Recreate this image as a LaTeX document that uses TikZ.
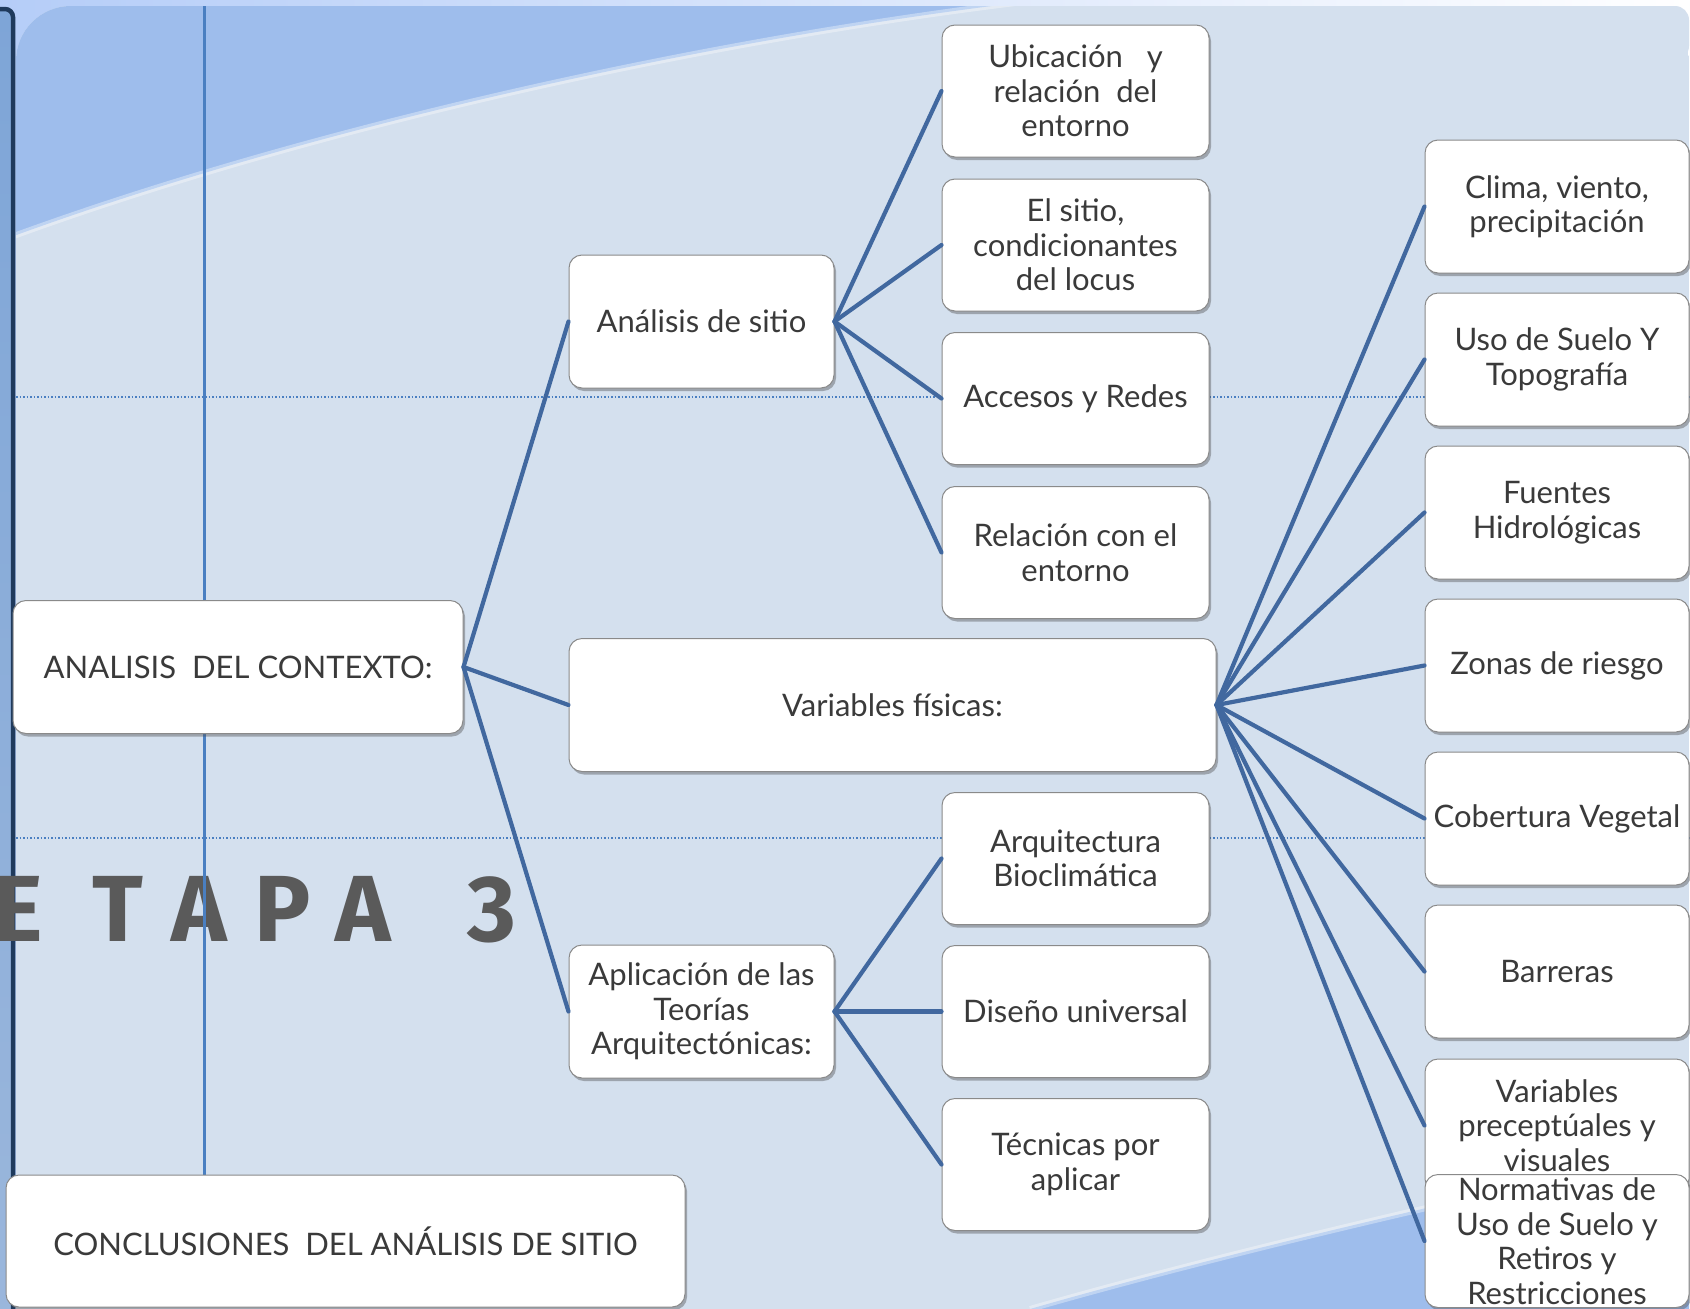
\documentclass[tikz,border=0pt]{standalone}
\usepackage{fontspec}
\setmainfont{Lato}
\newfontfamily\etapafont{Fira Sans}
\usetikzlibrary{shadows}
\definecolor{panelc}{HTML}{D4E0EE}
\definecolor{bandc}{HTML}{9EBDEC}
\definecolor{topc}{HTML}{B5CDF8}
\definecolor{stripc}{HTML}{9BB7DC}
\definecolor{stript}{HTML}{7EA5D7}
\definecolor{navyc}{HTML}{1F3A5C}
\definecolor{vlinec}{HTML}{4A7FC1}
\definecolor{connc}{HTML}{41689F}
\definecolor{txtc}{HTML}{3A3A3A}
\definecolor{borderc}{HTML}{8A8A8A}
\definecolor{etapac}{HTML}{5A5A5A}
\tikzset{
  box/.style={draw=borderc, line width=1pt, fill=white, rounded corners=13pt,
    align=center, text=txtc, font=\fontsize{31}{34.5}\selectfont, inner sep=1pt,
    drop shadow={shadow xshift=2pt, shadow yshift=-3pt, opacity=0.4, fill=black!70}},
  midbox/.style={box, minimum width=267pt, minimum height=132pt},
  rightbox/.style={box, minimum width=264pt, minimum height=133pt},
  conn/.style={draw=connc, line width=4.2pt, line cap=round},
  guide/.style={draw=vlinec, line width=1.5pt, dotted},
}
\begin{document}
\begin{tikzpicture}[x=1pt,y=-1pt]
\useasboundingbox (0,0) rectangle (1690,1309);
% page background
\shade[left color=topc, right color=white] (0,0) rectangle (1690,1309);
% left strip
\shade[top color=stript, bottom color=stripc, rounded corners=8pt] (-20,9) rectangle (13,1340);
\draw[navyc, line width=4.5pt, rounded corners=8pt] (-20,9) -- (13,9) -- (13,1340);
% panel
\begin{scope}
  \clip[rounded corners=55pt] (16,6) rectangle (1689,1400);
  \fill[panelc] (16,6) rectangle (1689,1400);
  \fill[bandc] (0,0) -- (0,241) .. controls (300,130) and (700,40) .. (1040,0) -- cycle;
  \draw[white, opacity=0.35, line width=6pt] (0,241) .. controls (300,130) and (700,40) .. (1040,0);
  \fill[bandc] (1030,1309) .. controls (1200,1260) and (1450,1200) .. (1690,1150) -- (1690,1320) -- (1030,1320) -- cycle;
  \draw[white, opacity=0.35, line width=6pt] (1030,1309) .. controls (1200,1260) and (1450,1200) .. (1690,1150);
\end{scope}
\fill[panelc, rounded corners=14pt] (1200,6) -- (1689,6) -- (1689,60) -- (1200,60) -- cycle;
\fill[panelc] (1200,6) rectangle (1600,60);
% guides
\draw[guide] (16,397) -- (1690,397);
\draw[guide] (16,838) -- (1690,838);
% ETAPA 3
\node[anchor=base west, inner sep=0pt, text=etapac, font=\etapafont\bfseries\fontsize{94}{100}\selectfont] (etapa) at (18,941)
  {\makebox[0pt]{E}\hspace{100pt}\makebox[0pt]{T}\hspace{81pt}\makebox[0pt]{A}\hspace{84pt}\makebox[0pt]{P}\hspace{80pt}\makebox[0pt]{A}\hspace{129pt}\makebox[0pt]{3}};
% vertical line
\draw[vlinec, line width=3pt] (204,6) -- (204,1176);

% nodes
\node[box, minimum width=450pt, minimum height=133pt] (root) at (238,667) {ANALISIS\ \ DEL CONTEXTO:};
\node[box, minimum width=265pt, minimum height=133pt] (sitio) at (701.5,321.5) {Análisis de sitio};
\node[box, minimum width=647pt, minimum height=133pt] (vf) at (892.5,705) {Variables físicas:};
\node[box, minimum width=265pt, minimum height=133pt] (apl) at (701.5,1011.5) {Aplicación de las\\Teorías\\Arquitectónicas:};

\node[midbox] (m1) at (1075.5,91) {Ubicación\ \ \ y\\relación\ \ del\\entorno};
\node[midbox] (m2) at (1075.5,245) {El sitio,\\condicionantes\\del locus};
\node[midbox] (m3) at (1075.5,398.5) {Accesos y Redes};
\node[midbox] (m4) at (1075.5,552.5) {Relación con el\\entorno};
\node[midbox] (m5) at (1075.5,858.5) {Arquitectura\\Bioclimática};
\node[midbox] (m6) at (1075.5,1011.5) {Diseño universal};
\node[midbox] (m7) at (1075.5,1164.5) {Técnicas por\\aplicar};

\node[rightbox] (r1) at (1557,206.5) {Clima, viento,\\precipitación};
\node[rightbox] (r2) at (1557,359.5) {Uso de Suelo Y\\Topografía};
\node[rightbox] (r3) at (1557,512.5) {Fuentes\\Hidrológicas};
\node[rightbox] (r4) at (1557,665.5) {Zonas de riesgo};
\node[rightbox] (r5) at (1557,818.5) {Cobertura Vegetal};
\node[rightbox] (r6) at (1557,971.5) {Barreras};
\node[rightbox] (r7) at (1557,1125.5) {Variables\\preceptúales y\\visuales};
\node[rightbox] (r8) at (1557,1241) {Normativas de\\Uso de Suelo y\\Retiros y\\Restricciones};

\node[box, minimum width=679pt, minimum height=132pt] (concl) at (345.5,1241) {CONCLUSIONES\ \ DEL ANÁLISIS DE SITIO};

% connectors
\draw[conn] (root.east) -- (sitio.west);
\draw[conn] (root.east) -- (vf.west);
\draw[conn] (root.east) -- (apl.west);
\foreach \m in {m1,m2,m3,m4} \draw[conn] (sitio.east) -- (\m.west);
\foreach \m in {m5,m6,m7} \draw[conn] (apl.east) -- (\m.west);
\foreach \r in {r1,r2,r3,r4,r5,r6,r7,r8} \draw[conn] (vf.east) -- (\r.west);
\end{tikzpicture}
\end{document}
